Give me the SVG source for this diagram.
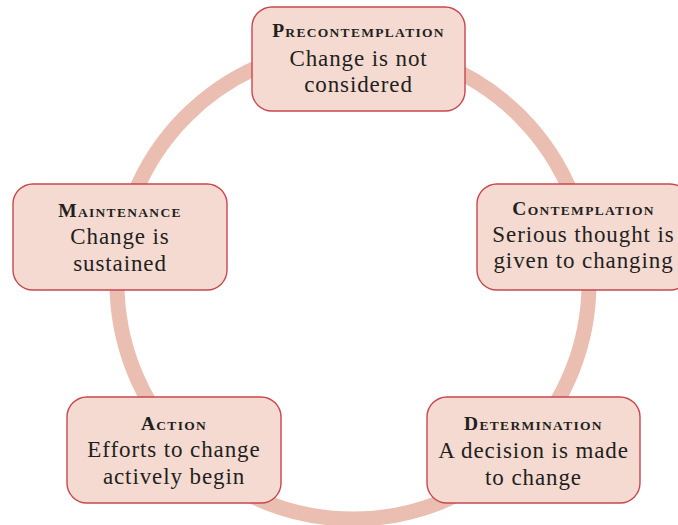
<svg xmlns="http://www.w3.org/2000/svg" width="678" height="525" viewBox="0 0 678 525">
<style>
.box{fill:#F4DAD1;stroke:#C9474F;stroke-width:1.4}
.ring{fill:none;stroke:#EABEB1;stroke-width:15}
.t{font-family:"Liberation Serif","Times New Roman",serif;fill:#231F20;text-anchor:middle}
.ttl{font-weight:bold;letter-spacing:1.3px}
.big{font-size:19.5px}
.sm{font-size:13.5px}
.body{font-size:23px;letter-spacing:0.9px}
</style>
<rect width="678" height="525" fill="#FFFFFF"/>
<g id="connectors">
<circle class="ring" cx="353" cy="283" r="236"/>
</g>
<g id="precontemplation">
<rect class="box" x="252" y="7" width="213" height="104" rx="20"/>
<text class="t ttl" x="358.5" y="36.5"><tspan class="big">P</tspan><tspan class="sm">RECONTEMPLATION</tspan></text>
<text class="t body" x="358.5" y="66">Change is not</text>
<text class="t body" x="358.5" y="92">considered</text>
</g>
<g id="contemplation">
<rect class="box" x="477" y="184" width="213" height="106" rx="20"/>
<text class="t ttl" x="583.5" y="215"><tspan class="big">C</tspan><tspan class="sm">ONTEMPLATION</tspan></text>
<text class="t body" x="583.5" y="242">Serious thought is</text>
<text class="t body" x="583.5" y="268">given to changing</text>
</g>
<g id="determination">
<rect class="box" x="427" y="397" width="213" height="106" rx="20"/>
<text class="t ttl" x="533.5" y="430"><tspan class="big">D</tspan><tspan class="sm">ETERMINATION</tspan></text>
<text class="t body" x="533.5" y="458">A decision is made</text>
<text class="t body" x="533.5" y="485">to change</text>
</g>
<g id="action">
<rect class="box" x="67" y="397" width="214" height="106" rx="20"/>
<text class="t ttl" x="174" y="430"><tspan class="big">A</tspan><tspan class="sm">CTION</tspan></text>
<text class="t body" x="174" y="457">Efforts to change</text>
<text class="t body" x="174" y="484">actively begin</text>
</g>
<g id="maintenance">
<rect class="box" x="13" y="184" width="214" height="106" rx="20"/>
<text class="t ttl" x="120" y="217"><tspan class="big">M</tspan><tspan class="sm">AINTENANCE</tspan></text>
<text class="t body" x="120" y="244">Change is</text>
<text class="t body" x="120" y="271">sustained</text>
</g>
</svg>
